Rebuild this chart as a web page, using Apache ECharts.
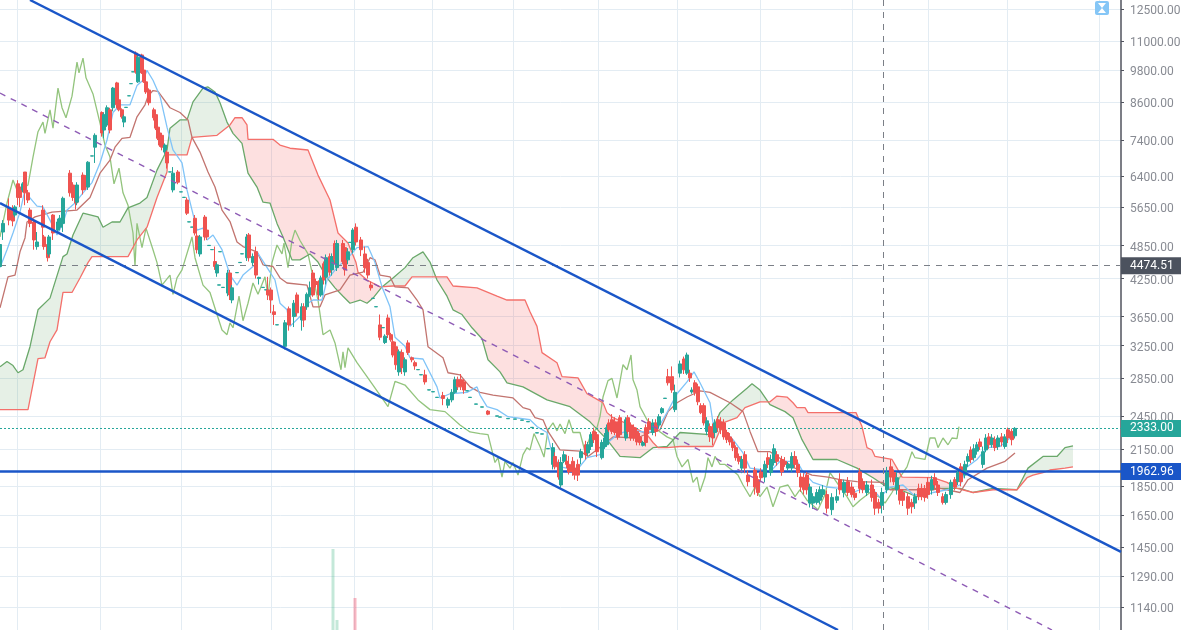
<!DOCTYPE html>
<html><head><meta charset="utf-8">
<style>html,body{margin:0;padding:0;background:#fff}#c{width:1181px;height:630px}</style>
<script src="https://cdn.jsdelivr.net/npm/echarts@6/dist/echarts.min.js"></script>
</head><body><div id="c"></div>
<script>
const priceTicks=[12500,11000,9800,8600,7400,6400,5650,4850,4250,3650,3250,2850,2450,2150,1850,1650,1450,1290,1140];
const sessionTicks=[17,100,181,271,354,432,513,598,677,760,852,928,1007,1099];
const crosshairSession=883;
const crosshairPrice=4474.51, lastPrice=2333.00, supportPrice=1962.96;
const channelTop=[[30,12960],[1121,1423]];
const channelBottom=[[0,5750],[838,1041]];
const channelMid=[[0,8930],[1052,1041]];
const volumes=[[333,810,'up'],[337,100,'up'],[355,320,'down']];
// [session, open, close, low, high]
const candles=[
[0,4460,4870,4400,4960],[3,5120,5300,4960,5370],[9,5635,5370,5260,5860],[13,5590,5350,5240,5700],[15,5480,5660,5430,5700],[18,6210,5880,5700,6300],[20,6130,5880,5660,6200],[23,6060,6210,6000,6250],[25,6510,5990,5700,6510],[28,5990,5820,5750,6060],[30,5590,5300,5220,5640],[34,5330,4960,4770,5400],[37,4830,4920,4770,5120],[43,5590,5220,4870,5700],[44,5020,4830,4770,5060],[48,4870,4620,4550,4900],[49,4690,5020,4640,5060],[53,5480,5100,4960,5500],[58,5160,5330,5100,5400],[60,5220,5410,5160,5480],[63,5300,5860,5120,5900],[70,6480,5990,5900,6560],[73,6180,5880,5800,6250],[76,6130,5750,5600,6180],[77,5770,6180,5700,6250],[83,6430,6060,5950,6500],[86,6380,6130,6060,6430],[88,6130,6770,6060,6800],[92,6940,6944,6940,6944],[95,7190,7540,6750,7600],[102,8260,7610,7500,8300],[104,7700,8190,7450,8260],[107,7860,8420,7800,8500],[110,8350,7700,7600,8420],[113,8420,9110,8300,9150],[117,9300,8520,8400,9340],[119,8690,8350,8300,8750],[122,8350,8120,8060,8400],[124,7950,8120,7790,8190],[126,8430,8434,8430,8434],[129,8830,8834,8830,8834],[131,9270,9274,9270,9274],[133,9720,9724,9720,9724],
[136,10480,9710,9650,10550],[138,9340,10310,9300,10400],[142,10400,9680,9640,10450],[144,9790,9340,9300,9850],[146,9340,8970,8900,9400],[149,9040,8590,8500,9100],[154,8350,8090,8000,8420],[156,8190,7760,7700,8260],[158,7790,7450,7400,7860],[160,7610,7250,7200,7700],[162,7540,7190,7100,7600],[165,7050,7250,7000,7300],[167,7050,6750,6600,7100],[170,6510,6514,6510,6514],[173,6060,6480,6000,6640],[178,6510,6250,6200,6560],[181,6010,6014,6010,6014],[184,5880,5884,5880,5884],[187,5820,5520,5480,5880],[189,5330,5334,5330,5334],[192,5220,5224,5220,5224],[195,5410,5100,5050,5480],[197,5040,4770,4700,5100],[200,4690,5020,4640,5060],[205,5435,5020,4950,5480],[207,5160,5020,4960,5200],[209,4850,4854,4850,4854],[212,4770,4774,4770,4774],[215,4550,4460,4400,4830],[217,4345,4490,4280,4530],[219,4140,4144,4140,4144],[220,4730,4734,4730,4734],[223,4100,4104,4100,4104],[228,4010,4345,3960,4400],[230,4345,3980,3900,4400],[232,3900,4095,3850,4140],[237,4350,4354,4350,4354],[240,4530,4534,4530,4534],[242,4690,4694,4690,4694],[247,4620,5020,4560,5080],[249,5060,4620,4550,5100],[253,4530,4640,4480,4700],[256,4730,4310,4250,4830],[259,4250,4270,4150,4280],[263,4100,4104,4100,4104],[266,4060,4064,4060,4064],[268,4060,3980,3900,4280],[271,4060,3900,3700,4100],[274,3720,3680,3530,3825],[277,3530,3533,3530,3533],[285,3240,3560,3200,3600],[289,3765,3530,3450,3800],[294,3650,3850,3500,3900],[297,3980,3705,3650,4020],[302,3600,3795,3450,3850],[304,3795,3600,3500,3850],[307,3795,3990,3750,4020],[310,3980,4095,3950,4200],[313,4345,3980,3950,4400],[316,4200,4150,4100,4250],[319,4160,3980,3900,4220],[321,3980,4260,3950,4300],[324,4510,4225,4150,4550],[326,4280,4620,4150,4680],[330,4640,4360,4300,4700],[332,4400,4640,4300,4700],[335,4890,4580,4500,4950],[337,4440,4890,4380,4960],[343,4890,4550,4500,4960],[345,4810,4400,4300,4870],[348,4580,4730,4500,4800],[350,4910,4914,4910,4914],[353,4770,5160,4700,5200],[356,5220,4920,4850,5300],[361,4960,4770,4650,5020],[365,4690,4440,4350,4830],[368,4530,4310,4250,4600],[371,4140,4095,4050,4200],[373,3925,3928,3925,3928],[376,3795,3798,3795,3798],[380,3530,3360,3320,3680],[383,3490,3493,3490,3493],[385,3290,3375,3270,3400],[388,3630,3395,3350,3680],[391,3395,3325,3300,3420],[393,3300,3130,3100,3350],[396,3235,3010,2950,3300],[399,2925,3170,2880,3200],[402,3160,2975,2900,3200],[405,2925,3070,2880,3100],[408,3285,3160,3130,3320],[412,3095,3070,3040,3110],[415,3035,2995,2950,3060],[418,2950,2953,2950,2953],[421,2890,2893,2890,2893],[425,2890,2810,2780,2950],[429,2720,2723,2720,2723],[433,2700,2703,2700,2703],[437,2640,2643,2640,2643],[443,2660,2630,2560,2700],[448,2560,2620,2530,2640],[452,2615,2695,2590,2730],[455,2695,2835,2680,2870],[458,2835,2755,2720,2870],[461,2835,2755,2720,2900],[464,2810,2720,2680,2840],[467,2710,2713,2710,2713],[470,2640,2643,2640,2643],[476,2570,2573,2570,2573],[482,2540,2543,2540,2543],[488,2500,2470,2460,2510],[497,2450,2453,2450,2453],[500,2440,2443,2440,2443],[508,2425,2428,2425,2428],[515,2420,2423,2420,2423],[522,2410,2413,2410,2413],[528,2395,2398,2395,2398],[532,2340,2343,2340,2343],[537,2290,2293,2290,2293],[542,2280,2283,2280,2283],[548,2150,2153,2150,2153],
[553,2020,2160,1980,2200],[555,2085,2000,1980,2120],[559,2035,1920,1900,2060],[561,1860,2035,1840,2080],[564,2045,2100,2030,2130],[567,2045,2020,1990,2100],[569,2020,1960,1940,2090],[573,2045,1960,1930,2080],[575,1990,1935,1900,2020],[578,2020,1935,1890,2060],[581,2075,2125,2020,2150],[586,2185,2100,2060,2220],[588,2115,2185,2090,2210],[591,2170,2275,2140,2300],[594,2305,2230,2200,2340],[597,2275,2125,2080,2300],[602,2075,2205,2060,2230],[605,2170,2245,2150,2290],[607,2185,2340,2170,2370],[609,2385,2320,2300,2420],[612,2415,2305,2280,2470],[615,2395,2295,2270,2440],[618,2365,2255,2230,2400],[620,2435,2275,2250,2460],[626,2245,2415,2220,2440],[628,2435,2305,2280,2460],[631,2365,2245,2220,2390],[634,2340,2245,2220,2370],[637,2305,2210,2180,2340],[640,2255,2205,2180,2290],[643,2180,2205,2170,2220],[646,2340,2205,2170,2370],[649,2395,2320,2280,2430],[653,2295,2385,2270,2420],[656,2385,2305,2260,2420],[659,2365,2445,2330,2470],[662,2485,2525,2470,2540],[665,2630,2633,2630,2633],[668,2870,2800,2770,2960],[672,2870,2720,2690,2990],[675,2515,2695,2490,2780],[680,2910,3020,2860,3060],[684,3080,2950,2900,3110],[687,2910,3130,2890,3160],[690,2910,2855,2810,2950],[692,2700,2720,2680,2750],[695,2800,2695,2660,2830],[698,2755,2595,2560,2790],[701,2555,2485,2470,2580],[704,2555,2385,2360,2580],[707,2305,2405,2270,2440],[710,2350,2255,2210,2380],[713,2340,2245,2180,2380],[715,2295,2385,2250,2420],[718,2415,2340,2300,2450],[721,2395,2320,2280,2440],[724,2385,2255,2230,2420],[727,2295,2230,2200,2320],[730,2255,2210,2180,2290],[733,2210,2160,2130,2240],[736,2160,2075,2050,2180],[739,2085,2045,2020,2110],[742,1990,2060,1950,2090],[745,2100,1990,1950,2130],[748,1935,1885,1850,1970],[755,1975,1845,1790,2000],[758,1900,1805,1780,1930],[761,1960,1915,1880,1990],[765,1920,2020,1880,2050],[768,2075,2020,1990,2120],[771,1955,2060,1930,2100],[774,2035,2150,2010,2190],[777,2100,2045,2010,2130],[782,2060,1960,1930,2090],[785,2045,2020,2000,2080],[788,1990,2020,1970,2040],[792,1990,2085,1960,2120],[795,2085,2020,1990,2130],[798,2020,1955,1920,2060],[801,1920,1845,1810,1950],[804,1915,1825,1790,1950],[807,1935,1825,1790,1960],[810,1730,1845,1700,1870],[813,1730,1775,1690,1800],[817,1735,1805,1720,1830],[820,1750,1825,1720,1850],[823,1790,1825,1770,1860],[827,1790,1695,1660,1820],[832,1685,1770,1650,1800],[837,1750,1775,1730,1830],[840,1900,1825,1790,1950],[844,1805,1880,1770,1900],[848,1885,1805,1780,1920],[852,1845,1790,1770,1880],[855,1800,1770,1750,1830],[860,1960,1835,1800,1990],[863,1885,1825,1800,1910],[867,1805,1860,1780,1890],[872,1860,1770,1740,1900],[875,1805,1695,1650,1830],[879,1735,1695,1660,1760],[882,1715,1805,1660,1840],[887,1825,1955,1800,2000],[891,2000,1920,1880,2060],[894,1955,1885,1860,1980],[897,1825,1915,1790,1960],[900,1825,1750,1720,1860],[903,1805,1750,1710,1830],[908,1775,1695,1650,1800],[912,1735,1705,1660,1760],[915,1730,1775,1690,1800],[919,1835,1775,1750,1870],[922,1835,1775,1750,1870],[925,1835,1770,1740,1860],[928,1880,1790,1760,1920],[932,1825,1900,1790,1930],[935,1915,1860,1830,1950],[938,1860,1805,1780,1890],[943,1775,1735,1720,1800],[946,1735,1790,1720,1810],[951,1790,1880,1760,1900],[955,1900,1845,1820,1920],[958,1885,1955,1860,1980],[961,2000,1885,1850,2030],[965,1935,2020,1910,2050],[968,2045,2085,2000,2110],[971,2140,2060,2030,2170],[974,2075,2150,2050,2190],[977,2130,2185,2100,2210],[980,2210,2170,2140,2240],[983,2020,2125,1990,2170],[986,2140,2245,2120,2280],[989,2255,2185,2150,2290],[992,2185,2245,2160,2280],[995,2230,2160,2130,2260],[998,2170,2245,2140,2270],[1002,2255,2210,2170,2290],[1005,2170,2255,2150,2280],[1008,2320,2245,2200,2340],[1012,2305,2230,2180,2330],[1015,2265,2333,2240,2345]
];
const laggingLine=[[0,5020],[7,5750],[13,6305],[17,6060],[25,6130],[28,6180],[33,6910],[38,7650],[43,7950],[45,7600],[50,8350],[53,7760],[58,9110],[62,8420],[66,8090],[72,8820],[77,10110],[79,9680],[83,10270],[86,9490],[93,8900],[100,7920],[105,7250],[110,6910],[114,6210],[119,6610],[123,5990],[128,5700],[133,5100],[135,4470],[137,5300],[142,4810],[146,5200],[153,4770],[157,4530],[162,4140],[170,4310],[173,3990],[177,4260],[182,4400],[192,5020],[195,4620],[203,4140],[210,4020],[217,3680],[222,3460],[227,3395],[230,3560],[233,3490],[239,3960],[243,3590],[248,3850],[253,4175],[258,3990],[265,4280],[268,3960],[272,4530],[277,4860],[282,4690],[284,4900],[288,4440],[292,4950],[295,5160],[300,4950],[308,4690],[318,3900],[323,3395],[330,3460],[335,3285],[341,2950],[343,3170],[345,2975],[348,3220],[357,3035],[367,2870],[380,2665],[388,2545],[395,2815],[405,2775],[418,2615],[430,2515],[445,2495],[460,2365],[470,2300],[480,2285],[488,2275],[495,2035],[498,2075],[502,1920],[505,2045],[510,1990],[513,2035],[518,1935],[523,2100],[527,2160],[530,2140],[534,2285],[540,2170],[544,2080],[548,2320],[553,2385],[557,2310],[560,2375],[565,2285],[569,2415],[573,2295],[580,2295],[585,2125],[590,2255],[597,2340],[600,2445],[603,2645],[608,2825],[612,2850],[617,2635],[623,3010],[627,2950],[631,3130],[633,2835],[637,2720],[640,2545],[647,2415],[657,2320],[667,2255],[673,2230],[677,2085],[682,2000],[688,2060],[693,1880],[697,1920],[700,1810],[705,1920],[708,2075],[712,2000],[715,2085],[720,2020],[725,2020],[738,1935],[743,1860],[750,1775],[755,1845],[760,1775],[767,1845],[773,1705],[780,1845],[788,1860],[795,1775],[800,1825],[807,1750],[818,1685],[825,1790],[830,1955],[840,1845],[847,1775],[853,1705],[860,1750],[870,1805],[880,1770],[885,1730],[892,1805],[900,1920],[907,2000],[912,2125],[915,2075],[925,2060],[930,2245],[935,2245],[938,2160],[943,2245],[948,2185],[952,2245],[957,2240],[959,2350]];
const conversionLine=[[0,4440],[7,4770],[13,5100],[20,5545],[25,6060],[30,5870],[37,5680],[43,5660],[50,5370],[57,5060],[63,5300],[67,5590],[75,5750],[83,5990],[92,6240],[100,6750],[107,7400],[113,8260],[120,8520],[130,8520],[137,9200],[143,9400],[147,9780],[153,9400],[160,8820],[167,7790],[173,7110],[182,6750],[187,6060],[192,5590],[197,5160],[203,5200],[207,4960],[213,5060],[222,4770],[230,4310],[237,4140],[243,4310],[255,4490],[257,4730],[270,4360],[275,4225],[280,3850],[287,3750],[290,3510],[300,3650],[308,3850],[313,3900],[322,3900],[327,4225],[337,4440],[348,4620],[357,4810],[368,4830],[375,4530],[382,4110],[390,3795],[395,3360],[405,3240],[410,3095],[423,3080],[437,2755],[440,2635],[450,2680],[467,2695],[477,2755],[480,2665],[487,2545],[497,2515],[508,2445],[530,2415],[537,2350],[547,2295],[552,2115],[560,2000],[577,1975],[587,2075],[600,2100],[608,2205],[617,2275],[630,2320],[647,2295],[657,2320],[667,2485],[677,2680],[687,2810],[694,2925],[700,2800],[710,2585],[713,2385],[720,2350],[733,2230],[743,2115],[750,1990],[763,1975],[770,1960],[780,2045],[797,2045],[803,1960],[813,1880],[827,1845],[840,1835],[853,1805],[863,1835],[873,1825],[880,1770],[890,1845],[903,1860],[913,1790],[927,1790],[933,1805],[947,1825],[960,1860],[967,2000],[977,2060],[987,2160],[1000,2170],[1008,2230],[1013,2265]];
const baseLine=[[0,3780],[8,4280],[15,4310],[20,4730],[25,5000],[27,5330],[35,5440],[52,5545],[77,5590],[90,5880],[100,6480],[110,6830],[115,7190],[122,7450],[130,7480],[137,8120],[145,8520],[148,8820],[153,9020],[158,8990],[170,8420],[180,8260],[188,8020],[192,7480],[200,7050],[208,6510],[215,6130],[222,5590],[230,5340],[237,4920],[243,4830],[257,4730],[263,4490],[273,4460],[280,4260],[287,4175],[307,4140],[313,3795],[320,3795],[325,3980],[340,4060],[350,4310],[363,4360],[370,4620],[375,4580],[380,4310],[390,4280],[395,4110],[408,4095],[417,3900],[423,3750],[428,3235],[443,3095],[448,2915],[460,2890],[470,2755],[480,2695],[493,2665],[513,2635],[523,2535],[530,2515],[535,2435],[543,2415],[548,2305],[560,2140],[580,2130],[588,2085],[607,2210],[613,2255],[637,2245],[650,2295],[660,2320],[668,2495],[677,2585],[687,2645],[700,2710],[710,2695],[730,2585],[743,2495],[750,2305],[758,2125],[770,2125],[795,1990],[812,1935],[828,1920],[840,1900],[857,1885],[883,1880],[890,1825],[910,1825],[933,1825],[940,1835],[960,1805],[968,1900],[987,1990],[1005,2045],[1015,2115]];
const spanA=[[0,2985],[7,3050],[13,3000],[18,2915],[23,2950],[30,3235],[38,3750],[50,3930],[63,4640],[67,4690],[73,5060],[83,5520],[98,5440],[103,5220],[112,5330],[120,5330],[128,5640],[140,5750],[147,5880],[157,6560],[167,7110],[170,7760],[180,8020],[187,8020],[193,8620],[203,9110],[208,9150],[215,8970],[220,8590],[227,7950],[233,7600],[242,7300],[248,6480],[257,6130],[263,5770],[270,5750],[277,5300],[283,5020],[292,4580],[300,4580],[310,4690],[318,4540],[327,4260],[335,4095],[343,3960],[350,3850],[360,3900],[367,3850],[373,3930],[382,4110],[393,4260],[405,4440],[413,4620],[423,4730],[430,4540],[437,4225],[447,3960],[453,3750],[462,3680],[472,3490],[482,3340],[488,3070],[500,2925],[507,2800],[523,2755],[547,2615],[570,2545],[590,2395],[607,2230],[620,2085],[640,2075],[653,2160],[667,2170],[680,2295],[710,2275],[720,2485],[733,2615],[747,2740],[752,2790],[760,2720],[770,2565],[785,2495],[793,2435],[802,2230],[813,2060],[837,2060],[857,1990],[873,1915],[887,1845],[900,1825],[917,1775],[933,1835],[960,1835],[973,1805],[993,1835],[1017,1825],[1028,1990],[1043,2085],[1057,2085],[1065,2160],[1073,2175]];
const spanB=[[0,2515],[28,2515],[38,3085],[45,3095],[50,3300],[57,3460],[63,4020],[72,4020],[80,4260],[88,4530],[92,4640],[128,4640],[137,4960],[147,5220],[157,5880],[167,6510],[168,6970],[187,6970],[192,7480],[217,7540],[230,7860],[235,8090],[242,8090],[247,7860],[248,7420],[273,7420],[280,7250],[290,7160],[308,7110],[318,6430],[330,5820],[338,5100],[348,4900],[356,4530],[358,4360],[367,4225],[380,4110],[393,4125],[405,4125],[412,4280],[447,4280],[453,4125],[477,4095],[497,3960],[507,3900],[525,3900],[530,3720],[537,3510],[542,3160],[557,3035],[562,2870],[578,2855],[587,2680],[598,2615],[603,2585],[607,2485],[613,2435],[630,2365],[647,2275],[653,2205],[658,2160],[667,2160],[680,2170],[713,2170],[723,2385],[737,2435],[745,2535],[760,2595],[770,2595],[777,2655],[787,2645],[793,2585],[797,2535],[805,2535],[808,2485],[856,2485],[862,2350],[867,2160],[872,2140],[875,2085],[892,2060],[897,1990],[902,1920],[933,1915],[947,1880],[957,1835],[973,1805],[993,1825],[1017,1825],[1027,1915],[1033,1935],[1043,1955],[1050,1975],[1065,1990],[1073,2000]];

function at(line,x){
  for(let i=1;i<line.length;i++){
    if(x<=line[i][0]){
      const a=line[i-1],b=line[i],t=(x-a[0])/(b[0]-a[0]);
      return Math.exp(Math.log(a[1])+t*(Math.log(b[1])-Math.log(a[1])));
    }
  }
  return line[line.length-1][1];
}
// split the band between the two spans into same-sign polygons
function cloudPolygons(){
  const xs=[...new Set(spanA.map(p=>p[0]).concat(spanB.map(p=>p[0])))].sort((a,b)=>a-b);
  const rows=[];
  xs.forEach((x,i)=>{
    const a=at(spanA,x),b=at(spanB,x);
    if(i){
      const p=rows[rows.length-1];
      const d0=Math.log(p.a/p.b),d1=Math.log(a/b);
      if(d0*d1<0){
        const t=d0/(d0-d1),xc=p.x+t*(x-p.x);
        const c=at(spanA,xc);
        rows.push({x:xc,a:c,b:c});
      }
    }
    rows.push({x,a,b});
  });
  const polys=[];let cur=null;
  rows.forEach(r=>{
    const s=r.a===r.b?0:(r.a>r.b?1:-1);
    if(!cur){cur={s,rows:[r]};return;}
    cur.rows.push(r);
    if(s===0){polys.push(cur);cur={s:0,rows:[r]};}
    else if(cur.s===0)cur.s=s;
  });
  if(cur)polys.push(cur);
  return polys;
}
const polys=cloudPolygons();
const UP='#26a69a',DOWN='#ef5350';
const line=(name,data,lineStyle,z)=>({name,type:'line',data,symbol:'none',silent:true,z:z||3,lineStyle});
const fmt=v=>Number(v).toFixed(2);
const tag=(value,bg,lineStyle)=>({yAxis:value,lineStyle,symbol:'none',
  label:{show:true,position:'end',distance:0,formatter:fmt(value),color:'#fff',fontFamily:'Roboto',fontSize:12,
    backgroundColor:bg,width:51,height:17,lineHeight:17,align:'left',padding:[0,0,0,9]}});
const chart=echarts.init(document.getElementById('c'),null,{renderer:'canvas'});
chart.setOption({
  animation:false,
  backgroundColor:'#ffffff',
  grid:{left:0,right:60,top:0,bottom:0,containLabel:false,outerBoundsMode:'none'},
  xAxis:{type:'value',min:0,max:1121,axisLine:{show:false,onZero:false},axisLabel:{show:false},
    axisTick:{show:false,customValues:sessionTicks},
    splitLine:{show:true,lineStyle:{color:'#e3ecf3',width:1}}},
  yAxis:[{type:'log',logBase:10,position:'right',min:1041,max:12960,
    axisLine:{show:true,onZero:false,lineStyle:{color:'#50535e',width:1.5}},
    axisTick:{show:true,length:3,customValues:priceTicks,lineStyle:{color:'#50535e'}},
    axisLabel:{show:true,customValues:priceTicks,margin:9,color:'#888b93',fontFamily:'Roboto',fontSize:12,verticalAlign:'top',lineHeight:4,hideOverlap:false,formatter:v=>fmt(v)},
    splitLine:{show:true,lineStyle:{color:'#e3ecf3',width:1}},minorTick:{show:false},minorSplitLine:{show:false}},
   {type:'value',position:'left',min:0,max:6300,show:false,axisLine:{onZero:false},splitLine:{show:false}}],
  graphic:[
    {type:'rect',shape:{x:1095,y:1,width:14,height:14,r:2},style:{fill:'#85c6f6'},z:50},
    {type:'polygon',shape:{points:[[1098,3],[1106,3],[1102,8],[1106,13],[1098,13],[1102,8]]},style:{fill:'#ffffff'},z:51}
  ],
  series:[
    {name:'Volume',type:'bar',yAxisIndex:1,barWidth:3,silent:true,z:1,
      data:volumes.map(v=>({value:[v[0],v[1]],itemStyle:{color:v[2]==='up'?'rgba(60,180,130,0.3)':'rgba(239,83,110,0.42)'}}))},
    {name:'Cloud',type:'custom',silent:true,z:2,clip:true,
      data:polys.map((_,i)=>[i]),
      encode:{x:-1,y:-1},
      renderItem:(params,api)=>{
        const p=polys[params.dataIndex];
        const upper=p.rows.map(r=>api.coord([r.x,r.a]));
        const lower=p.rows.map(r=>api.coord([r.x,r.b])).reverse();
        return {type:'polygon',shape:{points:upper.concat(lower)},
          style:{fill:p.s>=0?'rgba(104,168,104,0.17)':'rgba(242,90,90,0.19)',stroke:null}};
      }},
    line('Lagging Span',laggingLine,{color:'#93c47d',width:1.3}),
    line('Span A',spanA,{color:'#6aa86a',width:1.3}),
    line('Span B',spanB,{color:'#f4706b',width:1.3}),
    line('Base Line',baseLine,{color:'#c2746f',width:1.3}),
    line('Conversion Line',conversionLine,{color:'#80c4f8',width:1.3}),
    {name:'Price',type:'candlestick',data:candles,barWidth:3.4,z:5,silent:true,
      itemStyle:{color:UP,color0:DOWN,borderColor:UP,borderColor0:DOWN,borderWidth:1}},
    line('Mid channel',channelMid,{color:'#8e5bb5',width:1.4,type:[6,6]},6),
    line('Upper channel',channelTop,{color:'#1a56c8',width:2.4},7),
    line('Lower channel',channelBottom,{color:'#1a56c8',width:2.4},7),
    {name:'Levels',type:'line',data:[],z:8,silent:true,symbol:'none',
      markLine:{silent:true,animation:false,symbol:'none',data:[
        tag(crosshairPrice,'#4c525e',{type:[6,6],color:'#7b7f87',width:1}),
        tag(lastPrice,'#26a69a',{type:[2,2],color:'#26a69a',width:1}),
        tag(supportPrice,'#1a56c8',{type:'solid',color:'#1a56c8',width:2.5})
      ]}},
    {name:'Crosshair',type:'line',data:[],z:8,silent:true,symbol:'none',
      markLine:{silent:true,animation:false,symbol:'none',label:{show:false},
        data:[{xAxis:crosshairSession,lineStyle:{type:[6,6],color:'#7b7f87',width:1}}]}}
  ]
});
</script></body></html>
